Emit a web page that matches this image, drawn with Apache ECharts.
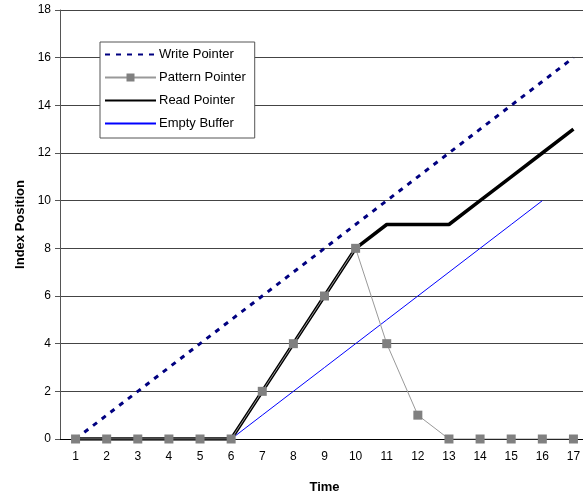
<!DOCTYPE html>
<html lang="en">
<head>
    <meta charset="UTF-8">
    <title>Pointers</title>
    <style>
        html, body { margin: 0; padding: 0; background: #fff; }
    </style>
</head>
<body>
    <div id="main" style="width: 583px; height: 498px"></div>
    <script src="https://cdn.jsdelivr.net/npm/echarts@6/dist/echarts.min.js"></script>
    <script type="text/javascript">
        var times = ['1', '2', '3', '4', '5', '6', '7', '8', '9', '10', '11', '12', '13', '14', '15', '16', '17'];
        var writePointer = [0, 1, 2, 3, 4, 5, 6, 7, 8, 9, 10, 11, 12, 13, 14, 15, 16];
        var patternPointer = [0, 0, 0, 0, 0, 0, 2, 4, 6, 8, 4, 1, 0, 0, 0, 0, 0];
        var readPointer = [0, 0, 0, 0, 0, 0, 2, 4, 6, 8, 9, 9, 9, 10, 11, 12, 13];
        var emptyBuffer = [0, 0, 0, 0, 0, 0, 1, 2, 3, 4, 5, 6, 7, 8, 9, 10, '-'];

        var myChart = echarts.init(document.getElementById('main'));
        var font = 'Liberation Sans, Arial, sans-serif';
        // hide the legend marker for series drawn without symbols
        var noMarker = { opacity: 0 };

        var option = {
            animation: false,
            textStyle: { fontFamily: font },
            grid: { left: 60, width: 529, top: 10, bottom: 59, outerBoundsMode: 'none' },
            legend: {
                orient: 'vertical',
                left: 100,
                top: 42,
                itemWidth: 51,
                itemHeight: 10,
                itemGap: 10,
                padding: [6, 9, 8, 4],
                backgroundColor: '#fff',
                borderColor: '#555',
                borderWidth: 1,
                borderRadius: 0,
                textStyle: { fontSize: 13, color: '#000', fontFamily: font, padding: [0, 0, 0, -2] },
                data: [
                    { name: 'Write Pointer', itemStyle: noMarker },
                    { name: 'Pattern Pointer' },
                    { name: 'Read Pointer', itemStyle: noMarker },
                    { name: 'Empty Buffer', itemStyle: noMarker }
                ]
            },
            xAxis: {
                type: 'category',
                data: times,
                name: 'Time',
                nameLocation: 'middle',
                nameGap: 42,
                nameTextStyle: { fontWeight: 'bold', fontSize: 13, color: '#000' },
                axisLine: { lineStyle: { color: '#000', width: 1 } },
                axisTick: { show: false },
                axisLabel: { color: '#000', fontSize: 12, margin: 12 }
            },
            yAxis: {
                type: 'value',
                min: 0,
                max: 18,
                interval: 2,
                name: 'Index Position',
                nameLocation: 'middle',
                nameGap: 32,
                nameTextStyle: { fontWeight: 'bold', fontSize: 13, color: '#000' },
                axisLine: { show: true, lineStyle: { color: '#555', width: 1 } },
                axisTick: { show: true, length: 5, lineStyle: { color: '#555' } },
                axisLabel: { color: '#000', fontSize: 12, margin: 9 },
                splitLine: { lineStyle: { color: '#444', width: 1 } }
            },
            series: [{
                name: 'Write Pointer',
                type: 'line',
                data: writePointer,
                symbol: 'none',
                z: 3,
                lineStyle: { color: '#000080', width: 3, type: [5, 6] },
                itemStyle: { color: '#000080' }
            }, {
                name: 'Read Pointer',
                type: 'line',
                data: readPointer,
                symbol: 'none',
                z: 4,
                lineStyle: { color: '#000', width: 3.5 },
                itemStyle: { color: '#000' }
            }, {
                name: 'Empty Buffer',
                type: 'line',
                data: emptyBuffer,
                symbol: 'none',
                z: 3,
                lineStyle: { color: '#0000ff', width: 1 },
                itemStyle: { color: '#0000ff' }
            }, {
                name: 'Pattern Pointer',
                type: 'line',
                data: patternPointer,
                symbol: 'rect',
                symbolSize: 9,
                z: 5,
                lineStyle: { color: '#999', width: 1 },
                itemStyle: { color: '#808080' }
            }]
        };
        myChart.setOption(option);
    </script>
</body>
</html>
